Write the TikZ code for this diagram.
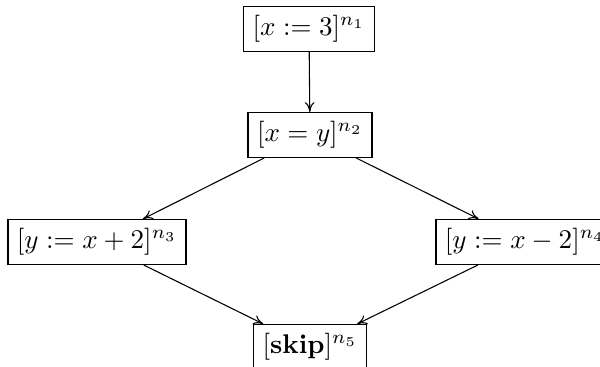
\documentclass[tikz,border=0pt]{standalone}
\usetikzlibrary{arrows.meta}
\begin{document}
\begin{tikzpicture}[x=0.37pt,y=-0.37pt,
  blk/.style={draw},
  flow/.style={-{To[length=3.6pt,width=3.6pt]}}]
\useasboundingbox (0,0) rectangle (600,367);
\node[blk] (n1) at (309,29) {$[x := 3]^{n_1}$};
\node[blk] (n2) at (310,135) {$[x = y]^{n_2}$};
\node[blk] (n3) at (97,242) {$[y := x + 2]^{n_3}$};
\node[blk] (n4) at (525,242) {$[y := x - 2]^{n_4}$};
\node[blk] (n5) at (310,347) {$[\textbf{skip}]^{n_5}$};
\draw[flow] (n1) -- (n2);
\draw[flow] (n2) -- (n3);
\draw[flow] (n2) -- (n4);
\draw[flow] (n3) -- (n5);
\draw[flow] (n4) -- (n5);
\end{tikzpicture}
\end{document}
